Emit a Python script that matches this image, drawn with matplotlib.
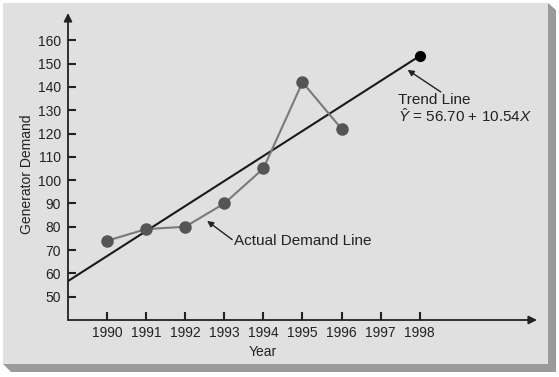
import matplotlib
matplotlib.use("Agg")
import matplotlib.pyplot as plt
from matplotlib.patches import Polygon, Rectangle

# Data
years = [1990, 1991, 1992, 1993, 1994, 1995, 1996]
demand = [74, 79, 80, 90, 105, 142, 122]
trend_years = [1989, 1998]
trend_values = [56.7, 153.3]
x_ticks = [1990, 1991, 1992, 1993, 1994, 1995, 1996, 1997, 1998]
y_ticks = [50, 60, 70, 80, 90, 100, 110, 120, 130, 140, 150, 160]

plt.rcParams['font.family'] = ['Liberation Sans', 'DejaVu Sans']
plt.rcParams['mathtext.fontset'] = 'custom'
plt.rcParams['mathtext.rm'] = 'Liberation Sans'
plt.rcParams['mathtext.it'] = 'Liberation Sans:italic'

W, H = 559, 377
fig = plt.figure(figsize=(W / 100, H / 100), dpi=100)
fig.patch.set_facecolor('white')

def px(x, y):
    return (x / W, 1 - y / H)

# Panel shadow and panel
shadow = Polygon([px(3, 364), px(548, 364), px(548, 3), px(556, 10),
                  px(556, 372), px(11, 372)], closed=True,
                 transform=fig.transFigure, facecolor='#9a9a9a', edgecolor='none',
                 zorder=-10)
fig.patches.append(shadow)
panel = Rectangle(px(3, 364), 545 / W, 361 / H, transform=fig.transFigure,
                  facecolor='#e0e0e0', edgecolor='none', zorder=-9)
fig.patches.append(panel)

ax = fig.add_axes([68 / W, 1 - 320 / H, (537 - 68) / W, (320 - 13) / H])
ax.set_zorder(5)
ax.set_facecolor('none')
ax.set_xlim(1989, 2001)
ax.set_ylim(40, 171.7)
for s in ax.spines.values():
    s.set_visible(False)

# Axis lines with arrow heads
ax.annotate('', xy=(1, 0), xytext=(0, 0), xycoords='axes fraction',
            arrowprops=dict(arrowstyle='-|>', color='#222222', lw=1.3,
                            mutation_scale=12, shrinkA=0, shrinkB=0))
ax.annotate('', xy=(0, 1), xytext=(0, 0), xycoords='axes fraction',
            arrowprops=dict(arrowstyle='-|>', color='#222222', lw=1.3,
                            mutation_scale=12, shrinkA=0, shrinkB=0))

ax.set_xticks(x_ticks)
ax.set_yticks(y_ticks)
ax.tick_params(axis='both', direction='in', length=6, width=1.5, color='#222222',
               labelsize=10, labelcolor='#222222')
ax.tick_params(axis='x', pad=4.5)
ax.tick_params(axis='y', pad=5)

# Lines
ax.plot(trend_years, trend_values, color='#1a1a1a', lw=1.5, zorder=3)
ax.plot(trend_years[-1], trend_values[-1], 'o', color='black', ms=7, zorder=4)
ax.plot(years, demand, color='#7a7a7a', lw=1.5, marker='o', ms=8,
        markerfacecolor='#555555', markeredgecolor='#555555', zorder=5)

# Annotations
ax.annotate('', xy=(1992.56, 82.5), xytext=(1993.2, 74.5),
            arrowprops=dict(arrowstyle='-|>', color='#222222', lw=1,
                            mutation_scale=9, shrinkA=0, shrinkB=0))
ax.text(1993.25, 74, 'Actual Demand Line', fontsize=11, color='#222222',
        va='center', ha='left')
ax.annotate('', xy=(1997.69, 147.3), xytext=(1998.54, 137.8),
            arrowprops=dict(arrowstyle='-|>', color='#222222', lw=1,
                            mutation_scale=9, shrinkA=0, shrinkB=0))
ax.text(1997.44, 134.4, 'Trend Line', fontsize=11, color='#222222',
        va='center', ha='left')
ax.text(1997.44, 127.4, r'$\hat{Y}$ = 56.70 + 10.54$X$', fontsize=11,
        color='#222222', va='center', ha='left')

ax.set_xlabel('Year', fontsize=10, color='#222222')
ax.set_ylabel('Generator Demand', fontsize=10, color='#222222')
ax.xaxis.set_label_coords((263 - 68) / (537 - 68), -25 / (320 - 13))
ax.yaxis.set_label_coords(-34 / (537 - 68), (320 - 174) / (320 - 13))

fig.savefig('out.png', dpi=100)
